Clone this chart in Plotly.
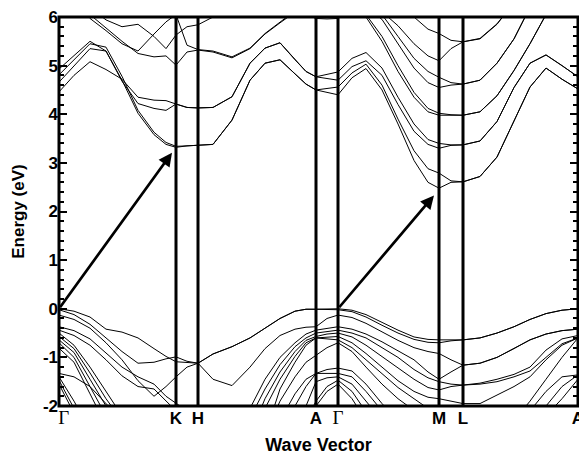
import plotly.graph_objects as go

# k-path node positions (path length units) and high-symmetry points
k_nodes = [0.00, 0.15, 0.31, 0.47, 0.63, 0.79, 0.95, 1.07, 1.17,
           1.28, 1.39,
           1.54, 1.73, 1.91, 2.06, 2.21, 2.36, 2.47, 2.57,
           2.68, 2.79,
           2.93, 3.07, 3.23, 3.39, 3.55, 3.69, 3.80,
           3.92, 4.04,
           4.21, 4.38, 4.55, 4.71, 4.87, 5.03, 5.19]
sym_k = [0.00, 1.17, 1.39, 2.57, 2.79, 3.80, 4.04, 5.19]
sym_labels = ["Γ", "K", "H", "A", "Γ", "M", "L", "A"]
energy_ticks = [-2, -1, 0, 1, 2, 3, 4, 5, 6]
energy_tick_labels = ["-2", "-1", "0", "1", "2", "3", "4", "5", "6"]

# transition arrows (tail -> head) in (k, E)
arrow_tail_k = [0.00, 2.79]
arrow_tail_e = [0.00, 0.00]
arrow_head_k = [1.13, 3.75]
arrow_head_e = [3.21, 2.33]

# conduction bands (eV) along the path:  G-K | K-H | H-A | A-G | G-M | M-L | L-A
cb1 = [4.66, 5.00, 5.35, 5.30, 4.70, 4.02, 3.58, 3.38, 3.32, 3.35, 3.36, 3.38, 3.88, 4.70, 5.05, 5.12, 4.83, 4.62, 4.50, 4.45, 4.40, 4.75, 4.94, 4.50, 3.80, 3.05, 2.60, 2.48, 2.60, 2.61, 2.72, 3.12, 3.85, 4.56, 4.95, 4.72, 4.52]
cb2 = [4.81, 5.12, 5.45, 5.38, 4.78, 4.08, 3.63, 3.42, 3.34, 3.35, 3.36, 3.38, 3.88, 4.70, 5.05, 5.12, 4.83, 4.62, 4.50, 4.53, 4.56, 4.85, 5.03, 4.60, 3.90, 3.25, 2.88, 2.79, 2.63, 2.61, 2.72, 3.12, 3.85, 4.56, 4.95, 4.72, 4.52]
cb3 = [4.93, 5.20, 5.50, 5.30, 4.68, 4.22, 4.12, 4.08, 4.21, 4.14, 4.13, 4.14, 4.36, 5.05, 5.36, 5.47, 5.12, 4.88, 4.77, 4.73, 4.70, 4.98, 5.10, 4.80, 4.20, 3.65, 3.38, 3.30, 3.36, 3.37, 3.45, 3.85, 4.55, 5.05, 5.22, 5.00, 4.77]
cb4 = [4.46, 4.80, 5.08, 4.92, 4.72, 4.35, 4.29, 4.28, 4.21, 4.14, 4.13, 4.14, 4.36, 5.05, 5.36, 5.47, 5.12, 4.88, 4.77, 4.82, 4.87, 5.15, 5.27, 4.95, 4.35, 3.80, 3.48, 3.40, 3.37, 3.37, 3.45, 3.85, 4.55, 5.05, 5.22, 5.00, 4.77]
cb5 = [6.60, 6.40, 6.05, 5.77, 5.50, 5.25, 5.18, 5.20, 5.01, 5.28, 5.32, 5.28, 5.16, 5.35, 5.65, 5.88, 6.10, 6.30, 6.50, 6.60, 6.60, 6.60, 6.60, 6.60, 6.60, 6.60, 6.60, 6.60, 6.60, 6.60, 6.60, 6.60, 6.60, 6.60, 6.60, 6.60, 6.60]
cb6 = [6.60, 6.40, 5.97, 5.72, 5.45, 5.30, 5.65, 5.90, 6.05, 5.42, 5.33, 5.30, 5.18, 5.36, 5.66, 5.90, 6.12, 6.30, 6.50, 6.60, 6.60, 6.60, 6.60, 6.60, 6.60, 6.60, 6.60, 6.60, 6.60, 6.60, 6.60, 6.60, 6.60, 6.60, 6.60, 6.60, 6.60]
cb7 = [6.60, 6.50, 6.20, 5.94, 5.80, 5.85, 5.60, 5.35, 5.63, 5.80, 5.84, 6.00, 6.30, 6.60, 6.60, 6.60, 6.60, 6.60, 6.60, 6.60, 6.60, 6.60, 6.60, 6.60, 6.60, 6.60, 6.60, 6.60, 6.60, 6.60, 6.60, 6.60, 6.60, 6.60, 6.60, 6.60, 6.60]
cb8 = [6.60, 6.60, 6.60, 6.60, 6.60, 6.60, 6.60, 6.60, 6.60, 6.60, 6.60, 6.60, 6.60, 6.60, 6.60, 6.60, 6.30, 6.05, 5.97, 5.96, 5.97, 6.30, 6.60, 6.60, 6.60, 6.60, 6.60, 6.60, 6.60, 6.60, 6.60, 6.60, 6.60, 6.60, 6.60, 6.60, 6.60]
cb9 = [6.60, 6.60, 6.60, 6.60, 6.60, 6.60, 6.60, 6.60, 6.60, 6.60, 6.60, 6.60, 6.60, 6.60, 6.60, 6.60, 6.60, 6.60, 6.60, 6.60, 6.60, 6.60, 6.60, 6.50, 6.30, 6.00, 5.75, 5.66, 5.52, 5.49, 5.55, 5.85, 6.30, 6.60, 6.60, 6.60, 6.60]
cb10 = [6.60, 6.60, 6.60, 6.60, 6.60, 6.60, 6.60, 6.60, 6.60, 6.60, 6.60, 6.60, 6.60, 6.60, 6.60, 6.60, 6.60, 6.60, 6.60, 6.60, 6.60, 6.60, 6.40, 6.10, 5.82, 5.45, 5.20, 5.10, 5.35, 5.49, 5.56, 5.86, 6.30, 6.60, 6.60, 6.60, 6.60]
cb11 = [6.60, 6.60, 6.60, 6.60, 6.60, 6.60, 6.60, 6.60, 6.60, 6.60, 6.60, 6.60, 6.60, 6.60, 6.60, 6.60, 6.60, 6.60, 6.60, 6.60, 6.60, 6.60, 6.30, 6.05, 5.60, 5.15, 4.88, 4.76, 4.65, 4.62, 4.70, 5.05, 5.55, 6.20, 6.60, 6.60, 6.60]
cb12 = [6.60, 6.60, 6.60, 6.60, 6.60, 6.60, 6.60, 6.60, 6.60, 6.60, 6.60, 6.60, 6.60, 6.60, 6.60, 6.60, 6.60, 6.60, 6.60, 6.60, 6.60, 6.50, 6.20, 5.95, 5.45, 4.95, 4.65, 4.55, 4.60, 4.62, 4.70, 5.05, 5.55, 6.20, 6.60, 6.60, 6.60]
cb13 = [6.60, 6.60, 6.60, 6.60, 6.60, 6.60, 6.60, 6.60, 6.60, 6.60, 6.60, 6.60, 6.60, 6.60, 6.60, 6.60, 6.60, 6.60, 6.60, 6.60, 6.60, 6.30, 6.05, 5.60, 5.00, 4.45, 4.12, 4.02, 3.99, 3.98, 4.05, 4.38, 4.90, 5.45, 6.05, 6.50, 6.60]
cb14 = [6.60, 6.60, 6.60, 6.60, 6.60, 6.60, 6.60, 6.60, 6.60, 6.60, 6.60, 6.60, 6.60, 6.60, 6.60, 6.60, 6.60, 6.60, 6.60, 6.60, 6.60, 6.20, 6.00, 5.50, 4.88, 4.35, 4.05, 3.98, 3.98, 3.98, 4.05, 4.38, 4.90, 5.45, 6.05, 6.50, 6.60]

# valence bands (eV)
vb1 = [0.00, -0.05, -0.17, -0.42, -0.48, -0.60, -0.82, -0.98, -1.09, -1.11, -1.12, -0.93, -0.78, -0.60, -0.40, -0.20, -0.05, -0.01, -0.01, -0.01, 0.00, -0.03, -0.12, -0.28, -0.44, -0.58, -0.63, -0.64, -0.64, -0.64, -0.60, -0.50, -0.37, -0.22, -0.10, -0.03, 0.00]
vb2 = [-0.02, -0.12, -0.32, -0.60, -0.88, -1.12, -1.10, -1.03, -0.99, -1.08, -1.12, -0.93, -0.78, -0.60, -0.40, -0.20, -0.05, -0.01, -0.01, -0.01, -0.02, -0.06, -0.17, -0.34, -0.50, -0.63, -0.69, -0.70, -0.66, -0.64, -0.60, -0.50, -0.37, -0.22, -0.10, -0.03, 0.00]
vb3 = [-0.13, -0.22, -0.40, -0.70, -1.05, -1.48, -1.80, -1.60, -1.40, -1.20, -1.12, -1.45, -1.58, -1.20, -0.82, -0.55, -0.42, -0.38, -0.37, -0.20, -0.13, -0.18, -0.30, -0.48, -0.65, -0.80, -0.88, -0.92, -1.05, -1.16, -1.12, -1.00, -0.82, -0.64, -0.52, -0.45, -0.42]
vb4 = [-0.37, -0.45, -0.62, -0.90, -1.20, -1.40, -1.55, -1.80, -1.95, -2.10, -2.20, -2.40, -2.60, -2.05, -1.45, -1.00, -0.70, -0.52, -0.44, -0.40, -0.37, -0.42, -0.52, -0.68, -0.86, -1.05, -1.30, -1.45, -1.30, -1.16, -1.12, -1.00, -0.82, -0.64, -0.52, -0.45, -0.42]
vb5 = [-0.44, -0.55, -0.75, -1.05, -1.38, -1.60, -1.65, -1.90, -2.10, -2.30, -2.40, -2.60, -2.60, -2.25, -1.65, -1.15, -0.78, -0.60, -0.50, -0.47, -0.44, -0.50, -0.60, -0.80, -1.00, -1.25, -1.42, -1.50, -1.55, -1.57, -1.53, -1.45, -1.35, -1.20, -0.85, -0.62, -0.55]
vb6 = [-0.50, -0.75, -1.20, -1.70, -2.20, -2.60, -2.60, -2.60, -2.60, -2.60, -2.60, -2.60, -2.60, -2.60, -1.85, -1.30, -0.88, -0.65, -0.57, -0.52, -0.50, -0.58, -0.75, -0.98, -1.22, -1.45, -1.62, -1.67, -1.60, -1.57, -1.55, -1.50, -1.40, -1.28, -1.00, -0.72, -0.60]
vb7 = [-0.57, -0.82, -1.32, -1.85, -2.30, -2.60, -2.60, -2.60, -2.60, -2.60, -2.60, -2.60, -2.60, -2.60, -2.05, -1.45, -0.98, -0.70, -0.60, -0.58, -0.57, -0.70, -0.92, -1.20, -1.48, -1.70, -1.82, -1.85, -1.90, -1.95, -1.95, -1.78, -1.60, -1.40, -1.05, -0.75, -0.60]
vb8 = [-0.64, -0.90, -1.45, -2.00, -2.50, -2.60, -2.60, -2.60, -2.60, -2.60, -2.60, -2.60, -2.60, -2.60, -2.60, -1.65, -1.10, -0.75, -0.60, -0.62, -0.64, -0.80, -1.05, -1.35, -1.62, -1.85, -2.05, -2.10, -2.20, -2.30, -2.50, -2.60, -2.30, -1.90, -1.45, -1.00, -0.60]
vb9 = [-0.70, -1.00, -1.60, -2.20, -2.60, -2.60, -2.60, -2.60, -2.60, -2.60, -2.60, -2.60, -2.60, -2.60, -2.60, -1.90, -1.40, -1.10, -0.95, -0.80, -0.70, -0.88, -1.20, -1.55, -1.85, -2.10, -2.30, -2.40, -2.40, -2.40, -2.60, -2.60, -2.60, -2.10, -1.70, -1.40, -1.36]
vb10 = [-0.81, -1.10, -1.75, -2.40, -2.60, -2.60, -2.60, -2.60, -2.60, -2.60, -2.60, -2.60, -2.60, -2.60, -2.60, -2.30, -1.75, -1.45, -1.33, -1.25, -1.22, -1.28, -1.55, -1.95, -2.30, -2.60, -2.60, -2.60, -2.60, -2.60, -2.60, -2.60, -2.60, -2.60, -2.00, -1.60, -1.36]
vb11 = [-1.33, -1.40, -1.60, -1.95, -2.30, -2.60, -2.60, -2.60, -2.60, -2.60, -2.60, -2.60, -2.60, -2.60, -2.60, -2.60, -2.00, -1.60, -1.33, -1.33, -1.33, -1.40, -1.70, -2.10, -2.60, -2.60, -2.60, -2.60, -2.60, -2.60, -2.60, -2.60, -2.60, -2.60, -2.20, -1.85, -1.45]
vb12 = [-1.40, -1.90, -2.50, -2.60, -2.60, -2.60, -2.60, -2.60, -2.60, -2.60, -2.60, -2.60, -2.60, -2.60, -2.60, -2.60, -2.60, -2.00, -1.50, -1.42, -1.40, -1.55, -1.90, -2.30, -2.60, -2.60, -2.60, -2.60, -2.60, -2.60, -2.60, -2.60, -2.60, -2.60, -2.60, -2.60, -2.60]
vb13 = [-1.47, -2.05, -2.60, -2.60, -2.60, -2.60, -2.60, -2.60, -2.60, -2.60, -2.60, -2.60, -2.60, -2.60, -2.60, -2.60, -2.60, -2.30, -1.90, -1.60, -1.47, -1.70, -2.10, -2.60, -2.60, -2.60, -2.60, -2.60, -2.60, -2.60, -2.60, -2.60, -2.60, -2.60, -2.60, -2.60, -2.60]
vb14 = [-1.55, -2.15, -2.60, -2.60, -2.60, -2.60, -2.60, -2.60, -2.60, -2.60, -2.60, -2.60, -2.60, -2.60, -2.60, -2.60, -2.60, -2.60, -2.00, -1.70, -1.55, -1.85, -2.30, -2.60, -2.60, -2.60, -2.60, -2.60, -2.60, -2.60, -2.60, -2.60, -2.60, -2.60, -2.60, -2.60, -2.60]

bands = [cb1, cb2, cb3, cb4, cb5, cb6, cb7, cb8, cb9, cb10, cb11, cb12, cb13, cb14,
         vb1, vb2, vb3, vb4, vb5, vb6, vb7, vb8, vb9, vb10, vb11, vb12, vb13, vb14]

fig = go.Figure()
for b in bands:
    fig.add_trace(go.Scatter(x=k_nodes, y=b, mode="lines",
                             line=dict(color="black", width=1),
                             hoverinfo="skip", showlegend=False))

shapes = [dict(type="rect", xref="paper", yref="paper", x0=0, x1=1, y0=0, y1=1,
               line=dict(color="black", width=3), layer="above")]
for k in sym_k[1:-1]:
    shapes.append(dict(type="line", xref="x", yref="paper", x0=k, x1=k, y0=0, y1=1,
                       line=dict(color="black", width=3), layer="above"))

annotations = []
for tk, te, hk, he in zip(arrow_tail_k, arrow_tail_e, arrow_head_k, arrow_head_e):
    annotations.append(dict(x=hk, y=he, ax=tk, ay=te, xref="x", yref="y",
                            axref="x", ayref="y", text="", showarrow=True,
                            arrowhead=2, arrowsize=1, arrowwidth=2.7,
                            arrowcolor="black", standoff=0, startstandoff=0))

tick_text_x = []
for i, lab in enumerate(sym_labels):
    if lab == "Γ":
        t = '<span style="font-family:Liberation Serif;font-weight:normal;font-size:19px">Γ</span>'
        if i == 0:
            t = "&nbsp;&nbsp;" + t
        tick_text_x.append(t)
    else:
        tick_text_x.append(lab)

fig.update_layout(
    width=579, height=455,
    margin=dict(l=59, r=1, t=17, b=49, autoexpand=False),
    paper_bgcolor="white", plot_bgcolor="white",
    shapes=shapes, annotations=annotations,
    showlegend=False,
    font=dict(family="Liberation Sans", color="black"),
)
fig.update_xaxes(
    range=[0, 5.19], tickvals=sym_k, ticktext=tick_text_x,
    ticks="", showgrid=False, zeroline=False, showline=False, automargin=False,
    ticklabeloverflow="allow",
    tickfont=dict(family="Liberation Sans", size=17, color="black", weight="bold"),
    title=dict(text="Wave Vector", standoff=12,
               font=dict(family="Liberation Sans", size=18, color="black", weight="bold")),
)
fig.update_yaxes(
    range=[-2, 6], tickvals=energy_ticks, ticktext=energy_tick_labels,
    ticks="inside", ticklen=8, tickwidth=2, tickcolor="black",
    minor=dict(ticks="inside", ticklen=5, tickwidth=1.5, dtick=0.2, tickcolor="black", showgrid=False),
    mirror="allticks", showline=False, showgrid=False, zeroline=False, automargin=False,
    tickfont=dict(family="Liberation Sans", size=17, color="black", weight="bold"),
    title=dict(text="Energy (eV)", standoff=13,
               font=dict(family="Liberation Sans", size=17, color="black", weight="bold")),
)

fig.write_html("out.html", config={"displayModeBar": False},
               post_script="document.body.style.margin='0';document.body.style.overflow='hidden';")
